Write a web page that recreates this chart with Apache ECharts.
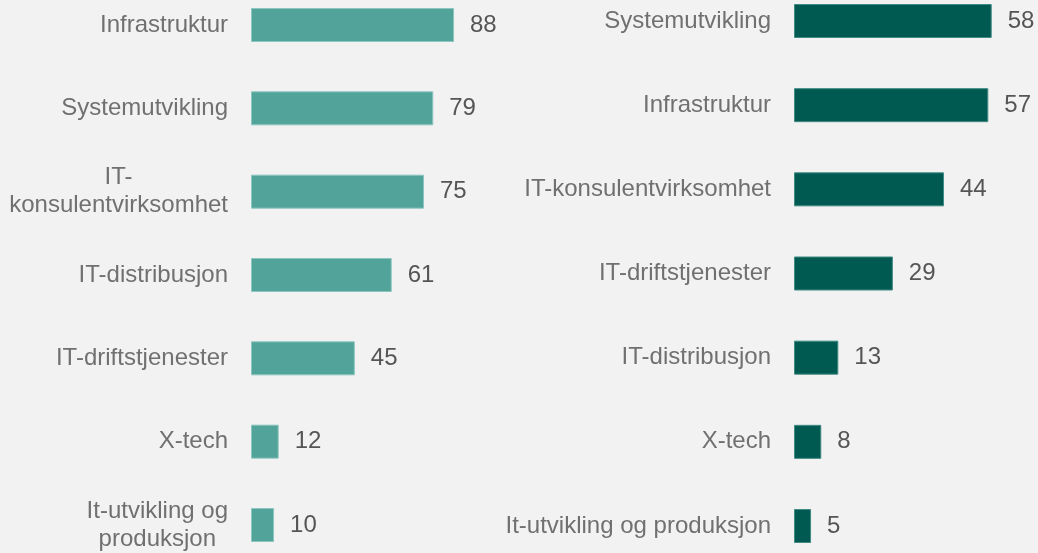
<!DOCTYPE html>
<html lang="no">
<head>
    <meta charset="UTF-8">
    <title>IT-bransjer</title>
    <style>
        html, body { margin: 0; padding: 0; background: #f2f2f2; }
        #chart { width: 1038px; height: 553px; }
    </style>
</head>
<body>
    <div id="chart"></div>
</body>
<script src="https://cdn.jsdelivr.net/npm/echarts@6/dist/echarts.min.js"></script>
<script>
    // venstre diagram
    var leftCategories = ['Infrastruktur', 'Systemutvikling', 'IT-\nkonsulentvirksomhet', 'IT-distribusjon',
        'IT-driftstjenester', 'X-tech', 'It-utvikling og\nproduksjon'];
    var leftValues = [88, 79, 75, 61, 45, 12, 10];

    // høyre diagram
    var rightCategories = ['Systemutvikling', 'Infrastruktur', 'IT-konsulentvirksomhet', 'IT-driftstjenester',
        'IT-distribusjon', 'X-tech', 'It-utvikling og produksjon'];
    var rightValues = [58, 57, 44, 29, 13, 8, 5];

    var font = '"Liberation Sans", Arial, sans-serif';

    function catAxis(idx, data) {
        return {
            type: 'category',
            gridIndex: idx,
            data: data,
            inverse: true,
            boundaryGap: false,
            axisLine: { show: false },
            axisTick: { show: false },
            axisLabel: {
                margin: 23,
                fontSize: 24,
                fontFamily: font,
                color: '#707070',
                lineHeight: 28,
                formatter: function (v) { return '{c|' + v + '}'; },
                rich: { c: { align: 'center', fontSize: 24, fontFamily: font, color: '#707070', lineHeight: 28 } }
            }
        };
    }

    function valAxis(idx, max) {
        return {
            type: 'value',
            gridIndex: idx,
            min: 0,
            max: max,
            show: false,
            splitLine: { show: false }
        };
    }

    function barSeries(idx, data, color, border) {
        return {
            type: 'bar',
            xAxisIndex: idx,
            yAxisIndex: idx,
            data: data,
            barWidth: 34,
            itemStyle: { color: color, borderColor: border, borderWidth: 1 },
            label: {
                show: true,
                position: 'right',
                distance: 16,
                fontSize: 24,
                fontFamily: font,
                color: '#555555'
            },
            silent: true
        };
    }

    var myChart = echarts.init(document.getElementById('chart'));
    var option = {
        backgroundColor: '#f2f2f2',
        animation: false,
        grid: [
            { left: 251, top: 25, width: 230.7, height: 501 },
            { left: 794, top: 21, width: 238.6, height: 505 }
        ],
        xAxis: [valAxis(0, 100), valAxis(1, 70)],
        yAxis: [catAxis(0, leftCategories), catAxis(1, rightCategories)],
        series: [
            barSeries(0, leftValues, '#52a39a', '#8cc6bf'),
            barSeries(1, rightValues, '#005a52', '#3f8a82')
        ]
    };
    myChart.setOption(option);
</script>
</html>
